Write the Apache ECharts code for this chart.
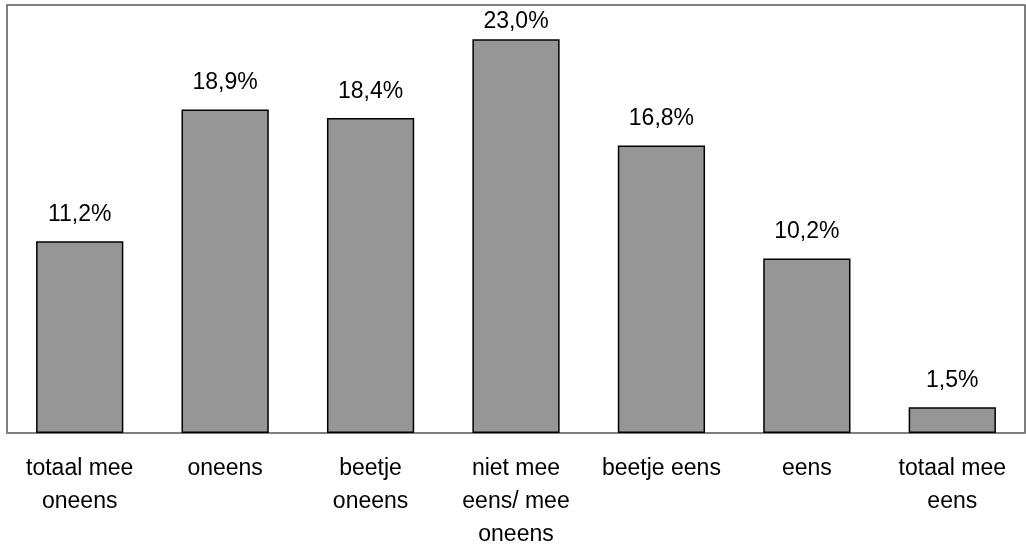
<!DOCTYPE html>
<html>
<head>
<meta charset="utf-8">
<script src="https://cdn.jsdelivr.net/npm/echarts@6/dist/echarts.min.js"></script>
<style>
  html, body { margin: 0; padding: 0; background: #fff; }
  #chart { width: 1026px; height: 546px; }
</style>
</head>
<body>
<div id="chart"></div>
<script>
const categories = ['totaal mee\noneens', 'oneens', 'beetje\noneens', 'niet mee\neens/ mee\noneens', 'beetje eens', 'eens', 'totaal mee\neens']
const values = [11.2, 18.9, 18.4, 23.0, 16.8, 10.2, 1.5]

const font = 'Liberation Sans, Arial, sans-serif'

// the tallest bar's label is pushed down so it stays inside the frame
const barData = values.map(v => v > 22 ? { value: v, label: { distance: 6 } } : v)

let myChart = echarts.init(document.getElementById('chart'))
myChart.setOption({
  animation: false,
  grid: {
    left: 7,
    right: 1,
    top: 5,
    bottom: 113,
    outerBoundsMode: 'none',
    containLabel: false,
    show: true,
    borderColor: '#555',
    borderWidth: 1.5
  },
  xAxis: {
    type: 'category',
    data: categories,
    axisLine: { lineStyle: { color: '#808080', width: 1.5 } },
    axisTick: { show: false },
    axisLabel: {
      interval: 0,
      margin: 19,
      color: '#000',
      fontSize: 23,
      fontFamily: font,
      lineHeight: 33
    }
  },
  yAxis: {
    type: 'value',
    min: 0,
    max: 25,
    show: false,
    splitLine: { show: false }
  },
  series: [{
    type: 'bar',
    data: barData,
    barWidth: '60%',
    itemStyle: { color: '#969696', borderColor: '#000', borderWidth: 1.5 },
    label: {
      show: true,
      position: 'top',
      distance: 15,
      color: '#000',
      fontSize: 23,
      fontFamily: font,
      formatter: p => p.value.toFixed(1).replace('.', ',') + '%'
    }
  }]
})
</script>
</body>
</html>
